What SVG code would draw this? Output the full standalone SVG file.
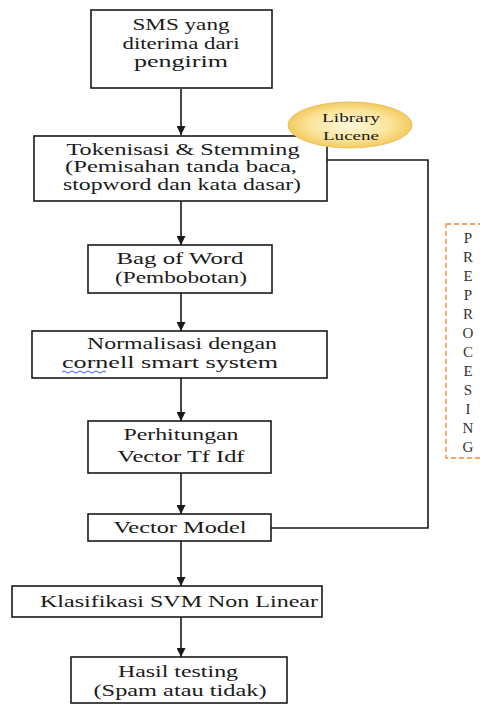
<svg xmlns="http://www.w3.org/2000/svg" width="480" height="704" viewBox="0 0 480 704">
<style>
.box{fill:#fff;stroke:#1a1a1a;stroke-width:1.6}
.t{font-family:'Liberation Serif','DejaVu Serif',serif;font-size:16px;fill:#1a1a1a;text-anchor:middle}
.s{font-family:'Liberation Serif','DejaVu Serif',serif;font-size:13px;fill:#1a1a1a;text-anchor:middle}
.v{font-family:'Liberation Serif','DejaVu Serif',serif;font-size:15px;fill:#333;text-anchor:middle}
.c{fill:none;stroke:#1a1a1a;stroke-width:1.6}
</style>
<defs>
<marker id="ah" viewBox="0 0 10 10" refX="10" refY="5" markerWidth="9" markerHeight="9" markerUnits="userSpaceOnUse" orient="auto">
<path d="M0,0 L10,5 L0,10 z" fill="#1a1a1a"/>
</marker>
<radialGradient id="gold" cx="50%" cy="50%" r="60%">
<stop offset="0%" stop-color="#fff8dc"/>
<stop offset="55%" stop-color="#fbe39a"/>
<stop offset="100%" stop-color="#eebb3a"/>
</radialGradient>
</defs>
<g id="connectors">
<line class="c" x1="181" y1="89" x2="181" y2="135" marker-end="url(#ah)"/>
<line class="c" x1="181" y1="201" x2="181" y2="245" marker-end="url(#ah)"/>
<line class="c" x1="181" y1="293" x2="181" y2="331" marker-end="url(#ah)"/>
<line class="c" x1="181" y1="378" x2="181" y2="421" marker-end="url(#ah)"/>
<line class="c" x1="181" y1="473" x2="181" y2="514" marker-end="url(#ah)"/>
<line class="c" x1="181" y1="541" x2="181" y2="586" marker-end="url(#ah)"/>
<line class="c" x1="181" y1="617" x2="181" y2="657" marker-end="url(#ah)"/>
<polyline class="c" points="327,160 428,160 428,528 271,528"/>
</g>
<g id="n1"><rect class="box" x="91" y="10" width="181" height="78"/>
<text class="t" x="181" y="30" textLength="97" lengthAdjust="spacingAndGlyphs">SMS yang</text>
<text class="t" x="181" y="48.5" textLength="117" lengthAdjust="spacingAndGlyphs">diterima dari</text>
<text class="t" x="181" y="67" textLength="94" lengthAdjust="spacingAndGlyphs">pengirim</text></g>
<g id="n2"><rect class="box" x="34" y="136" width="293" height="65"/>
<text class="t" x="183" y="154.5" textLength="233" lengthAdjust="spacingAndGlyphs">Tokenisasi &amp; Stemming</text>
<text class="t" x="181" y="172" textLength="232" lengthAdjust="spacingAndGlyphs">(Pemisahan tanda baca,</text>
<text class="t" x="182" y="190" textLength="238" lengthAdjust="spacingAndGlyphs">stopword dan kata dasar)</text></g>
<g id="lib"><ellipse cx="350" cy="125" rx="62" ry="23" fill="url(#gold)" stroke="#e8c060" stroke-width="1"/>
<text class="s" x="351" y="122" textLength="58" lengthAdjust="spacingAndGlyphs">Library</text>
<text class="s" x="351" y="140" textLength="56" lengthAdjust="spacingAndGlyphs">Lucene</text></g>
<g id="n3"><rect class="box" x="88" y="245" width="184" height="48"/>
<text class="t" x="180" y="264" textLength="127" lengthAdjust="spacingAndGlyphs">Bag of Word</text>
<text class="t" x="181" y="283" textLength="132" lengthAdjust="spacingAndGlyphs">(Pembobotan)</text></g>
<g id="n4"><rect class="box" x="32" y="331" width="295" height="47"/>
<text class="t" x="182" y="349" textLength="190" lengthAdjust="spacingAndGlyphs">Normalisasi dengan</text>
<text class="t" x="170" y="368" textLength="216" lengthAdjust="spacingAndGlyphs">cornell smart system</text>
<path d="M62,372 q2,-2 4,0 t4,0 t4,0 t4,0 t4,0 t4,0 t4,0 t4,0 t4,0 t4,0 t4,0" fill="none" stroke="#3b5bdb" stroke-width="1"/></g>
<g id="n5"><rect class="box" x="88" y="421" width="183" height="52"/>
<text class="t" x="181" y="440" textLength="115" lengthAdjust="spacingAndGlyphs">Perhitungan</text>
<text class="t" x="181" y="462" textLength="127" lengthAdjust="spacingAndGlyphs">Vector Tf Idf</text></g>
<g id="n6"><rect class="box" x="88" y="514" width="183" height="27"/>
<text class="t" x="180" y="533" textLength="133" lengthAdjust="spacingAndGlyphs">Vector Model</text></g>
<g id="n7"><rect class="box" x="12" y="586" width="310" height="31"/>
<text class="t" x="179" y="607" textLength="278" lengthAdjust="spacingAndGlyphs">Klasifikasi SVM Non Linear</text></g>
<g id="n8"><rect class="box" x="71" y="657" width="216" height="46"/>
<text class="t" x="178" y="677" textLength="120" lengthAdjust="spacingAndGlyphs">Hasil testing</text>
<text class="t" x="180" y="696" textLength="173" lengthAdjust="spacingAndGlyphs">(Spam atau tidak)</text></g>
<g id="pre"><rect x="446" y="224" width="40" height="234" fill="none" stroke="#f08a3c" stroke-width="1.3" stroke-dasharray="5,3"/>
<text class="v" x="468" y="243">P</text><text class="v" x="468" y="262">R</text><text class="v" x="468" y="281">E</text>
<text class="v" x="468" y="300">P</text><text class="v" x="468" y="319">R</text><text class="v" x="468" y="338">O</text>
<text class="v" x="468" y="357">C</text><text class="v" x="468" y="376">E</text><text class="v" x="468" y="395">S</text>
<text class="v" x="468" y="414">I</text><text class="v" x="468" y="433">N</text><text class="v" x="468" y="452">G</text></g>
</svg>
